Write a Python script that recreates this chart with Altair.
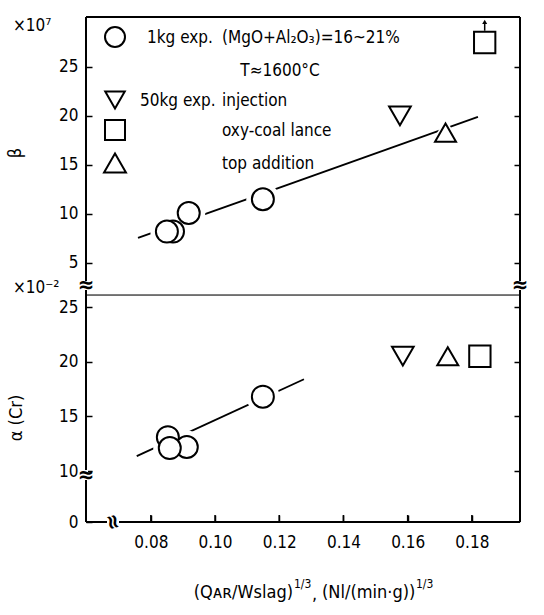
import altair as alt
import pandas as pd

FONT = "Liberation Sans Narrow, DejaVu Sans Condensed, Noto Sans, sans-serif"

# ---------------- data ----------------
kinds = ["1kg exp.", "injection", "oxy-coal lance", "top addition"]
shapes = ["circle", "triangle-down", "square", "triangle-up"]
marker_sizes = [484, 440, 400, 484]

x_ticks = [0.08, 0.10, 0.12, 0.14, 0.16, 0.18]
beta_ticks = [5, 10, 15, 20, 25]
alpha_ticks = [10, 15, 20, 25]

beta_1kg_x = [0.0869, 0.0850, 0.0918, 0.1149]
beta_1kg_y = [8.2, 8.2, 10.1, 11.5]
beta_50kg_kind = ["injection", "oxy-coal lance", "top addition"]
beta_50kg_x = [0.1576, 0.1840, 0.1718]
beta_50kg_y = [20.0, 27.5, 18.3]
beta_fit_x = [0.0760, 0.1819]
beta_fit_y = [7.55, 19.9]
beta_arrow_y = [28.7, 29.6]

alpha_1kg_x = [0.0853, 0.0912, 0.0859, 0.1149]
alpha_1kg_y = [13.1, 12.2, 12.1, 16.8]
alpha_50kg_kind = ["injection", "top addition", "oxy-coal lance"]
alpha_50kg_x = [0.1585, 0.1725, 0.1825]
alpha_50kg_y = [20.5, 20.5, 20.5]
alpha_fit_x = [0.0756, 0.1277]
alpha_fit_y = [11.37, 18.39]

# ---------------- layout ----------------
X_DOMAIN = [0.0598, 0.1950]
BETA_DOMAIN = [1.73, 30.1]
ALPHA_DOMAIN = [5.34, 26.1]
W = 434
H_UP = 278
H_LO = 227
TICK_PX = 7


def points_df(x1, y1, kind2, x2, y2):
    return pd.DataFrame({
        "x": list(x1) + list(x2),
        "y": list(y1) + list(y2),
        "kind": ["1kg exp."] * len(x1) + list(kind2),
    })


def text(t, x, y, size=17, align="left", angle=0, weight="normal"):
    return alt.Chart(pd.DataFrame({"t": [t]})).mark_text(
        align=align, baseline="middle", font=FONT, fontSize=size,
        angle=angle, color="black", fontWeight=weight
    ).encode(x=alt.value(x), y=alt.value(y), text="t:N")


def hrule(x1, x2, y, w=2, color="black"):
    return alt.Chart(pd.DataFrame({"a": [0]})).mark_rule(
        color=color, strokeWidth=w).encode(x=alt.value(x1), x2=alt.value(x2), y=alt.value(y))


def vrule(x, y1, y2, w=2, color="black"):
    return alt.Chart(pd.DataFrame({"a": [0]})).mark_rule(
        color=color, strokeWidth=w).encode(x=alt.value(x), y=alt.value(y1), y2=alt.value(y2))


def sym(shape, x, y, size):
    return alt.Chart(pd.DataFrame({"a": [0]})).mark_point(
        shape=shape, size=size, fill="white", stroke="black", strokeWidth=2,
        opacity=1, fillOpacity=1).encode(x=alt.value(x), y=alt.value(y))


shape_enc = alt.Shape("kind:N", scale=alt.Scale(domain=kinds, range=shapes), legend=None)
size_enc = alt.Size("kind:N", scale=alt.Scale(domain=kinds, range=marker_sizes), legend=None)


def panel(pts, fit, y_domain, left_vals, right_vals, x_axis, label_expr=None):
    xs = alt.Scale(domain=X_DOMAIN, nice=False, zero=False)
    ys = alt.Scale(domain=y_domain, nice=False, zero=False)
    left_axis = alt.Axis(
        orient="left", values=left_vals, offset=-6, tickSize=6, tickWidth=1.5,
        tickColor="black", domain=False, grid=False, labelPadding=8,
        labelFont=FONT, labelFontSize=17, labelColor="black", title=None,
        **({"labelExpr": label_expr} if label_expr else {}))
    right_axis = alt.Axis(
        orient="right", values=right_vals, offset=-6, tickSize=6, tickWidth=1.5,
        tickColor="black", domain=False, grid=False, labels=False, title=None)

    line = alt.Chart(fit).mark_line(color="black", strokeWidth=1.8).encode(
        x=alt.X("x:Q", scale=xs, axis=x_axis),
        y=alt.Y("y:Q", scale=ys, axis=None))
    halo = alt.Chart(pts).mark_point(filled=True, color="white", opacity=1, size=1100).encode(
        x=alt.X("x:Q", scale=xs, axis=x_axis),
        y=alt.Y("y:Q", scale=ys, axis=right_axis),
        shape=shape_enc)
    marks = alt.Chart(pts).mark_point(
        fill="white", stroke="black", strokeWidth=2, opacity=1, fillOpacity=1).encode(
        x=alt.X("x:Q", scale=xs, axis=x_axis),
        y=alt.Y("y:Q", scale=ys, axis=left_axis),
        shape=shape_enc, size=size_enc)
    return line, halo, marks, xs, ys


# ---------------- upper panel (beta) ----------------
beta_pts = points_df(beta_1kg_x, beta_1kg_y, beta_50kg_kind, beta_50kg_x, beta_50kg_y)
beta_fit = pd.DataFrame({"x": beta_fit_x, "y": beta_fit_y})
l1, h1, m1, xs1, ys1 = panel(beta_pts, beta_fit, BETA_DOMAIN, beta_ticks, beta_ticks, None)

arrow_df = pd.DataFrame({"x": [beta_50kg_x[1]] * 2, "y": beta_arrow_y})
arrow_line = alt.Chart(arrow_df).mark_line(color="black", strokeWidth=1.5).encode(
    x=alt.X("x:Q", scale=xs1, axis=None), y=alt.Y("y:Q", scale=ys1, axis=None))
arrow_head = alt.Chart(arrow_df.tail(1)).mark_point(
    shape="triangle-up", filled=True, color="black", size=25, opacity=1).encode(
    x=alt.X("x:Q", scale=xs1, axis=None), y=alt.Y("y:Q", scale=ys1, axis=None))

upper_layers = [
    l1, h1, m1, arrow_line, arrow_head,
    hrule(0, W, 0, 2.2), vrule(0, 0, H_UP, 2), vrule(W, 0, H_UP, 2),
    vrule(0, 264, 273, 4, "white"), vrule(W, 264, 273, 4, "white"),
    text("≈", 0, 268, 22, "center", weight="bold"),
    text("≈", W, 268, 22, "center", weight="bold"),
    # legend
    sym("circle", 29, 20, 400),
    text("1kg exp.", 61, 21),
    text("(MgO+Al₂O₃)=16~21%", 136, 21),
    text("T≈1600°C", 194, 54, align="center"),
    sym("triangle-down", 29, 83, 380),
    text("50kg exp.", 54, 84),
    text("injection", 136, 84),
    sym("square", 29, 113, 400),
    text("oxy-coal lance", 136, 114),
    sym("triangle-up", 29, 146, 480),
    text("top addition", 136, 147),
    # axis annotations
    text("×10⁷", -73, 9, 17),
    text("β", -70, 136, 18, "center", angle=270),
]
upper = alt.layer(*upper_layers).resolve_axis(y="independent").properties(width=W, height=H_UP)

# ---------------- lower panel (alpha) ----------------
alpha_pts = points_df(alpha_1kg_x, alpha_1kg_y, alpha_50kg_kind, alpha_50kg_x, alpha_50kg_y)
alpha_fit = pd.DataFrame({"x": alpha_fit_x, "y": alpha_fit_y})
x_axis = alt.Axis(
    values=x_ticks, format=".2f", offset=-7, tickSize=7, tickWidth=1.5, tickColor="black",
    domain=False, grid=False, labelPadding=12, labelFont=FONT, labelFontSize=17,
    labelColor="black", title=None)
l2, h2, m2, xs2, ys2 = panel(alpha_pts, alpha_fit, ALPHA_DOMAIN,
                             [ALPHA_DOMAIN[0]] + alpha_ticks, alpha_ticks, x_axis,
                             "datum.value < 6 ? '0' : datum.label")

tick_len = TICK_PX * (ALPHA_DOMAIN[1] - ALPHA_DOMAIN[0]) / H_LO
tick_df = pd.DataFrame({"x": x_ticks,
                        "y0": [ALPHA_DOMAIN[0]] * len(x_ticks),
                        "y1": [ALPHA_DOMAIN[0] + tick_len] * len(x_ticks)})
x_tick_rules = alt.Chart(tick_df).mark_rule(color="black", strokeWidth=1.5).encode(
    x=alt.X("x:Q", scale=xs2, axis=x_axis),
    y=alt.Y("y0:Q", scale=ys2, axis=None), y2="y1:Q")

lower_layers = [
    l2, h2, m2, x_tick_rules,
    hrule(0, W, 0, 1.2), hrule(0, W, H_LO, 2.2), vrule(0, 0, H_LO, 2), vrule(W, 0, H_LO, 2),
    vrule(0, 175, 185, 4, "white"),
    text("≈", 0, 180, 22, "center", weight="bold"),
    hrule(21, 33, H_LO, 4, "white"),
    text("≈", 27, H_LO, 22, "center", angle=75, weight="bold"),
    text("×10⁻²", -73, -7, 17),
    text("α (Cr)", -69, 123, 18, "center", angle=270),
    text("(Qᴀʀ/Wslag)", 207, 298, 18, "right"),
    text("1/3", 208, 289, 12),
    text(",", 226, 300, 18, "left"),
    text("(Nl/(min·g))", 236, 298, 18, "left"),
    text("1/3", 330, 289, 12),
]
lower = alt.layer(*lower_layers).resolve_axis(y="independent").properties(width=W, height=H_LO)

chart = alt.vconcat(upper, lower, spacing=0, bounds="flush").properties(
    autosize=alt.AutoSizeParams(type="none"),
    padding={"left": 86, "top": 17, "right": 544 - 86 - W, "bottom": 615 - 17},
).configure_view(stroke=None).configure(background="white")

chart.save("out.html", embed_options={"renderer": "svg", "actions": False})
